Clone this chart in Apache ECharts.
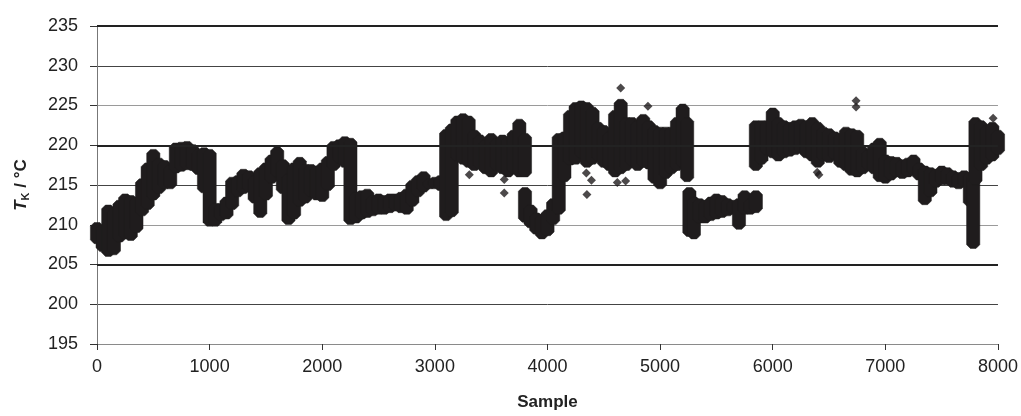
<!DOCTYPE html>
<html>
<head>
<meta charset="utf-8">
<script src="https://cdn.jsdelivr.net/npm/echarts@6/dist/echarts.min.js"></script>
<style>
html,body{margin:0;padding:0;background:#fff;}
#chart{width:1021px;height:416px;}
</style>
</head>
<body>
<div id="chart"></div>
<script>
// Envelope of the scatter cloud: sample position, lowest and highest point value
const binSample = [0,50,100,150,200,250,300,350,400,450,500,550,600,650,700,750,800,850,900,950,
  1000,1050,1100,1150,1200,1250,1300,1350,1400,1450,1500,1550,1600,1650,1700,1750,1800,1850,1900,1950,
  2000,2050,2100,2150,2200,2250,2300,2350,2400,2450,2500,2550,2600,2650,2700,2750,2800,2850,2900,2950,
  3000,3050,3100,3150,3200,3250,3300,3350,3400,3450,3500,3550,3600,3650,3700,3750,3800,3800,3850,3900,3950,
  4000,4050,4100,4150,4200,4250,4300,4350,4400,4450,4500,4550,4600,4650,4700,4750,4800,4850,4900,4950,
  5000,5050,5100,5150,5200,5240,5260,5300,5350,5400,5450,5500,5550,5600,5650,5700,5750,5800,5850,5850,5900,5950,
  6000,6050,6100,6150,6200,6250,6300,6350,6400,6450,6500,6550,6600,6650,6700,6750,6800,6850,6900,6950,
  7000,7050,7100,7150,7200,7250,7300,7350,7400,7450,7500,7550,7600,7650,7700,7750,7780,7800,7850,7900,7950,8000];
const binLow = [208.1,207.1,206.5,206.7,208.3,208.7,208.5,209.5,211.6,212.4,213.6,214.4,215.0,215.0,217.0,217.2,217.4,217.3,216.8,214.5,
  210.3,210.3,211.0,211.2,212.4,214.0,214.4,214.6,213.2,211.4,213.6,215.7,216.5,214.4,210.5,211.2,212.8,213.2,214.0,213.6,
  213.4,214.8,217.3,218.3,217.7,210.5,210.7,211.2,211.4,211.6,211.8,211.8,212.0,212.2,212.0,211.8,212.8,214.0,214.6,215.0,
  215.0,214.8,211.0,211.5,218.5,218.1,217.7,217.3,217.5,216.9,216.5,217.3,216.9,216.5,216.9,216.5,216.5,210.8,210.1,209.3,208.7,
  209.1,210.5,211.8,215.9,218.0,218.1,218.9,217.7,218.1,218.5,217.7,217.3,216.5,216.9,217.3,217.9,217.3,217.7,217.5,215.7,
  215.0,216.3,216.9,217.3,217.7,215.9,209.0,208.7,210.7,210.7,211.0,211.2,211.4,211.6,211.8,209.9,211.8,211.8,212.0,217.3,218.1,219.3,
  218.9,218.5,218.9,219.1,219.3,219.5,218.9,218.5,217.7,218.5,218.3,218.7,217.7,217.3,216.7,216.5,216.9,217.3,216.9,215.9,
  215.7,216.1,216.5,216.3,216.5,216.7,216.1,213.0,214.0,215.2,215.5,215.5,215.2,215.0,215.2,212.8,207.5,215.5,217.3,218.1,218.5,219.3];
const binHigh = [209.8,209.5,212.0,211.6,212.6,213.4,213.2,213.0,215.3,217.3,219.0,217.9,217.6,217.0,219.8,219.9,220.0,219.6,219.0,219.2,
  219.0,212.2,212.2,213.0,215.5,215.7,216.5,216.3,215.7,216.7,217.3,218.3,219.3,217.7,215.9,217.3,218.0,217.1,217.1,216.9,
  217.3,218.1,220.0,220.2,220.6,220.4,213.6,213.8,214.0,213.2,213.4,213.2,213.4,213.4,213.6,214.0,215.1,215.7,216.2,215.3,
  215.5,215.7,221.5,222.2,223.2,223.5,223.2,221.4,220.8,220.2,221.0,220.4,220.8,220.6,221.4,222.8,221.0,214.2,212.0,211.0,210.8,
  211.4,212.8,221.0,221.2,223.9,224.9,225.1,224.9,224.3,222.4,222.0,221.2,223.9,225.3,223.0,223.0,222.6,223.4,222.6,222.0,
  221.8,221.8,221.8,223.0,224.7,223.0,214.2,213.0,212.8,212.6,213.0,213.4,213.2,212.8,212.6,212.8,213.8,212.8,213.8,222.6,222.6,222.6,
  224.2,223.0,222.6,222.4,222.6,222.8,222.6,223.0,222.4,221.8,221.6,221.2,221.0,221.8,221.6,221.4,219.3,218.9,219.8,220.4,
  218.3,218.1,218.0,217.7,217.9,218.3,217.3,216.9,216.7,216.5,216.9,216.7,216.3,216.1,216.3,216.1,216.0,223.0,222.6,222.0,222.4,221.4];
// Isolated points outside the main cloud
const outlierSample = [3306,3616,3616,4345,4350,4390,4620,4650,4694,4892,6395,6410,6740,6740,7957];
const outlierValue  = [216.3,215.7,214.0,216.5,213.8,215.6,215.3,227.2,215.5,224.9,216.6,216.3,225.6,224.8,223.4];
// Axes
const xTicks = {min: 0, max: 8000, interval: 1000};
const yTicks = {min: 195, max: 235, interval: 5};
const darkGridValues = [205, 220, 235];

const ink = '#1f1c1d';
const font = 'Liberation Sans, Arial, sans-serif';
const bandRows = binSample.map((s, i) => [s, binLow[i], binHigh[i]]);
const outlierRows = outlierSample.map((s, i) => [s, outlierValue[i]]);
const binHalf = 25;      // half bin width in samples
const markerHalf = 3.8;  // half size of a diamond marker in px

const chart = echarts.init(document.getElementById('chart'), null, {renderer: 'canvas'});
chart.setOption({
  animation: false,
  backgroundColor: '#ffffff',
  grid: {left: 97, right: 22, top: 26, bottom: 64},
  xAxis: {
    type: 'value', min: xTicks.min, max: xTicks.max, interval: xTicks.interval,
    name: 'Sample', nameLocation: 'middle', nameGap: 50,
    nameTextStyle: {fontFamily: font, fontSize: 17, fontWeight: 'bold', color: '#222'},
    axisLine: {show: true, lineStyle: {color: '#8a8a8a', width: 1}},
    axisTick: {show: true, inside: false, length: 6, lineStyle: {color: '#333', width: 1}},
    axisLabel: {fontFamily: font, fontSize: 18, color: '#222', margin: 14,
      formatter: v => String(v)},
    splitLine: {show: false}
  },
  yAxis: {
    type: 'value', min: yTicks.min, max: yTicks.max, interval: yTicks.interval,
    name: '{t|T}{k|K}{r| / °C}', nameLocation: 'middle', nameGap: 66, nameRotate: 90,
    nameTextStyle: {
      fontFamily: font, color: '#222',
      rich: {
        t: {fontFamily: font, fontSize: 17, fontWeight: 'bold', fontStyle: 'italic', color: '#222', lineHeight: 20},
        k: {fontFamily: font, fontSize: 11, fontWeight: 'bold', color: '#222', verticalAlign: 'bottom', lineHeight: 20, padding: [8, 0, 0, 0]},
        r: {fontFamily: font, fontSize: 17, fontWeight: 'bold', color: '#222', lineHeight: 20}
      }
    },
    axisLine: {show: true, lineStyle: {color: '#777', width: 1}},
    axisTick: {show: true, inside: false, length: 7, lineStyle: {color: '#333', width: 1}},
    axisLabel: {fontFamily: font, fontSize: 18, color: '#222', margin: 19},
    splitLine: {show: true, lineStyle: {color: ['#9a9a9a', '#444', '#222'], width: 1}}
  },
  series: [
    {
      type: 'scatter',
      z: 2,
      data: outlierRows,
      symbol: 'diamond',
      symbolSize: 9,
      itemStyle: {color: ink},
      markLine: {
        silent: true, symbol: 'none', label: {show: false},
        lineStyle: {color: '#222', width: 2, type: 'solid'},
        data: darkGridValues.map(v => ({yAxis: v}))
      }
    },
    {
      type: 'custom',
      z: 3,
      clip: false,
      data: bandRows,
      encode: {x: 0, y: [1, 2]},
      renderItem: function (params, api) {
        const x = api.value(0), lo = api.value(1), hi = api.value(2);
        const pHi = api.coord([x, hi]);
        const pLo = api.coord([x, lo]);
        const half = api.size([binHalf, 0])[0];
        const m = markerHalf;
        const cx = pHi[0];
        const points = [
          [cx - half, pHi[1] - m], [cx + half, pHi[1] - m],
          [cx + half + m, pHi[1]], [cx + half + m, pLo[1]],
          [cx + half, pLo[1] + m], [cx - half, pLo[1] + m],
          [cx - half - m, pLo[1]], [cx - half - m, pHi[1]]
        ];
        return {type: 'polygon', shape: {points: points}, style: {fill: ink, stroke: ink, lineWidth: 0.5}};
      }
    }
  ]
});
</script>
</body>
</html>
